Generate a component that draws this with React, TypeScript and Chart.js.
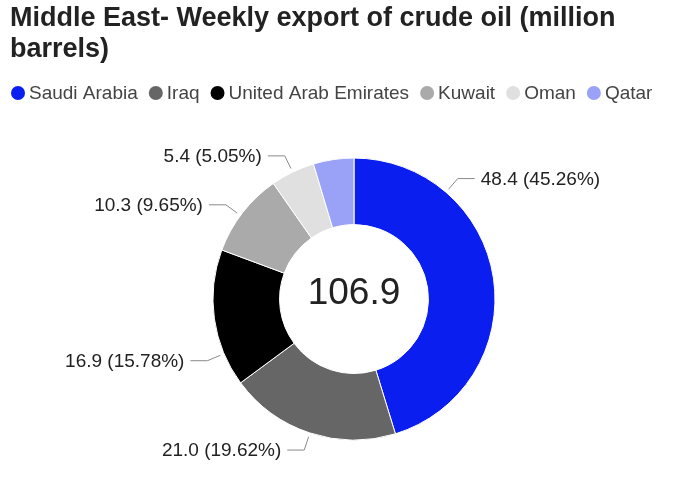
import React, { useEffect, useRef } from 'react';
import { Chart, registerables } from 'chart.js';

Chart.register(...registerables);

const TITLE_LINES = ['Middle East- Weekly export of crude oil (million', 'barrels)'];
const countries = ['Saudi Arabia', 'Iraq', 'United Arab Emirates', 'Kuwait', 'Oman', 'Qatar'];
const exportsMb = [48.38, 20.97, 16.87, 10.32, 5.4, 4.96];
const sliceColors = ['#0a1ef0', '#666666', '#000000', '#aaaaaa', '#e0e0e0', '#99a2f7'];
// where along each slice (0..1) the leader line of its label attaches
const leaderAnchor = [0.25, 0.5, 0.24, 0.46, 0.5, 0.5];
const MIN_LABEL_PCT = 5;

const FONT = '"Liberation Sans", Arial, sans-serif';
const SHIFT = 5; // canvas is shifted left by this much inside the page

const legendPlugin = {
  id: 'topLegend',
  afterDraw(chart: any) {
    const ctx = chart.ctx;
    const ds = chart.data.datasets[0];
    ctx.save();
    ctx.font = `19px ${FONT}`;
    ctx.textBaseline = 'middle';
    ctx.textAlign = 'left';
    let x = 11 + SHIFT;
    const y = 93;
    (chart.data.labels as string[]).forEach((lab, i) => {
      ctx.fillStyle = ds.backgroundColor[i];
      ctx.beginPath();
      ctx.arc(x + 7, y, 7, 0, Math.PI * 2);
      ctx.fill();
      ctx.fillStyle = '#444444';
      ctx.fillText(lab, x + 18, y + 1);
      x += 18 + ctx.measureText(lab).width + 11;
    });
    ctx.restore();
  },
};

const sliceLabelPlugin = {
  id: 'sliceLabels',
  afterDatasetsDraw(chart: any) {
    const ctx = chart.ctx;
    const meta = chart.getDatasetMeta(0);
    const values = chart.data.datasets[0].data as number[];
    const total = values.reduce((a, b) => a + b, 0);
    ctx.save();
    meta.data.forEach((arc: any, i: number) => {
      const pct = (values[i] / total) * 100;
      if (pct < MIN_LABEL_PCT) return;
      const { startAngle, endAngle, outerRadius, x, y } = arc.getProps(
        ['startAngle', 'endAngle', 'outerRadius', 'x', 'y'],
        true
      );
      const a = startAngle + (endAngle - startAngle) * leaderAnchor[i];
      const c = Math.cos(a);
      const s = Math.sin(a);
      const ax = x + (outerRadius + 4) * c;
      const ay = y + (outerRadius + 4) * s;
      const ex = x + (outerRadius + 18) * c;
      const ey = y + (outerRadius + 18) * s;
      const dir = c >= 0 ? 1 : -1;
      const hx = ex + dir * 17;
      ctx.strokeStyle = '#8a8a8a';
      ctx.lineWidth = 1;
      ctx.beginPath();
      ctx.moveTo(ax, ay);
      ctx.lineTo(ex, ey);
      ctx.lineTo(hx, ey);
      ctx.stroke();
      ctx.font = `19px ${FONT}`;
      ctx.fillStyle = '#222222';
      ctx.textBaseline = 'middle';
      ctx.textAlign = dir > 0 ? 'left' : 'right';
      const txt = `${values[i].toFixed(1)} (${pct.toFixed(2)}%)`;
      ctx.fillText(txt, hx + dir * 6, ey + 1);
    });
    // center total
    const first = meta.data[0];
    if (first) {
      ctx.font = `37px ${FONT}`;
      ctx.fillStyle = '#222222';
      ctx.textAlign = 'center';
      ctx.textBaseline = 'alphabetic';
      ctx.fillText(total.toFixed(1), first.x, first.y + 5);
    }
    ctx.restore();
  },
};

export default function App() {
  const ref = useRef<HTMLCanvasElement | null>(null);
  useEffect(() => {
    if (!ref.current) return;
    const chart = new Chart(ref.current, {
      type: 'doughnut',
      data: {
        labels: countries,
        datasets: [
          {
            data: exportsMb,
            backgroundColor: sliceColors,
            borderColor: '#ffffff',
            borderWidth: 1,
            radius: 141,
            cutout: 81,
          } as any,
        ],
      },
      options: {
        responsive: false,
        animation: false,
        devicePixelRatio: 1,
        layout: { padding: { left: 10 + SHIFT, right: 0, top: 0, bottom: 39 } },
        plugins: {
          legend: { display: false },
          tooltip: { enabled: false },
          title: {
            display: true,
            text: TITLE_LINES,
            align: 'start',
            color: '#222222',
            font: { family: FONT, size: 27, weight: 'bold', lineHeight: 1.15 },
            padding: { top: 3, bottom: 80 },
          },
        },
      } as any,
      plugins: [legendPlugin, sliceLabelPlugin],
    });
    return () => chart.destroy();
  }, []);
  return (
    <div
      style={{
        position: 'fixed',
        left: 0,
        top: 0,
        width: 693,
        height: 492,
        overflow: 'hidden',
        background: '#fff',
      }}
    >
      <canvas
        ref={ref}
        width={693 + 2 * SHIFT}
        height={492}
        style={{ display: 'block', marginLeft: -SHIFT }}
      />
    </div>
  );
}
